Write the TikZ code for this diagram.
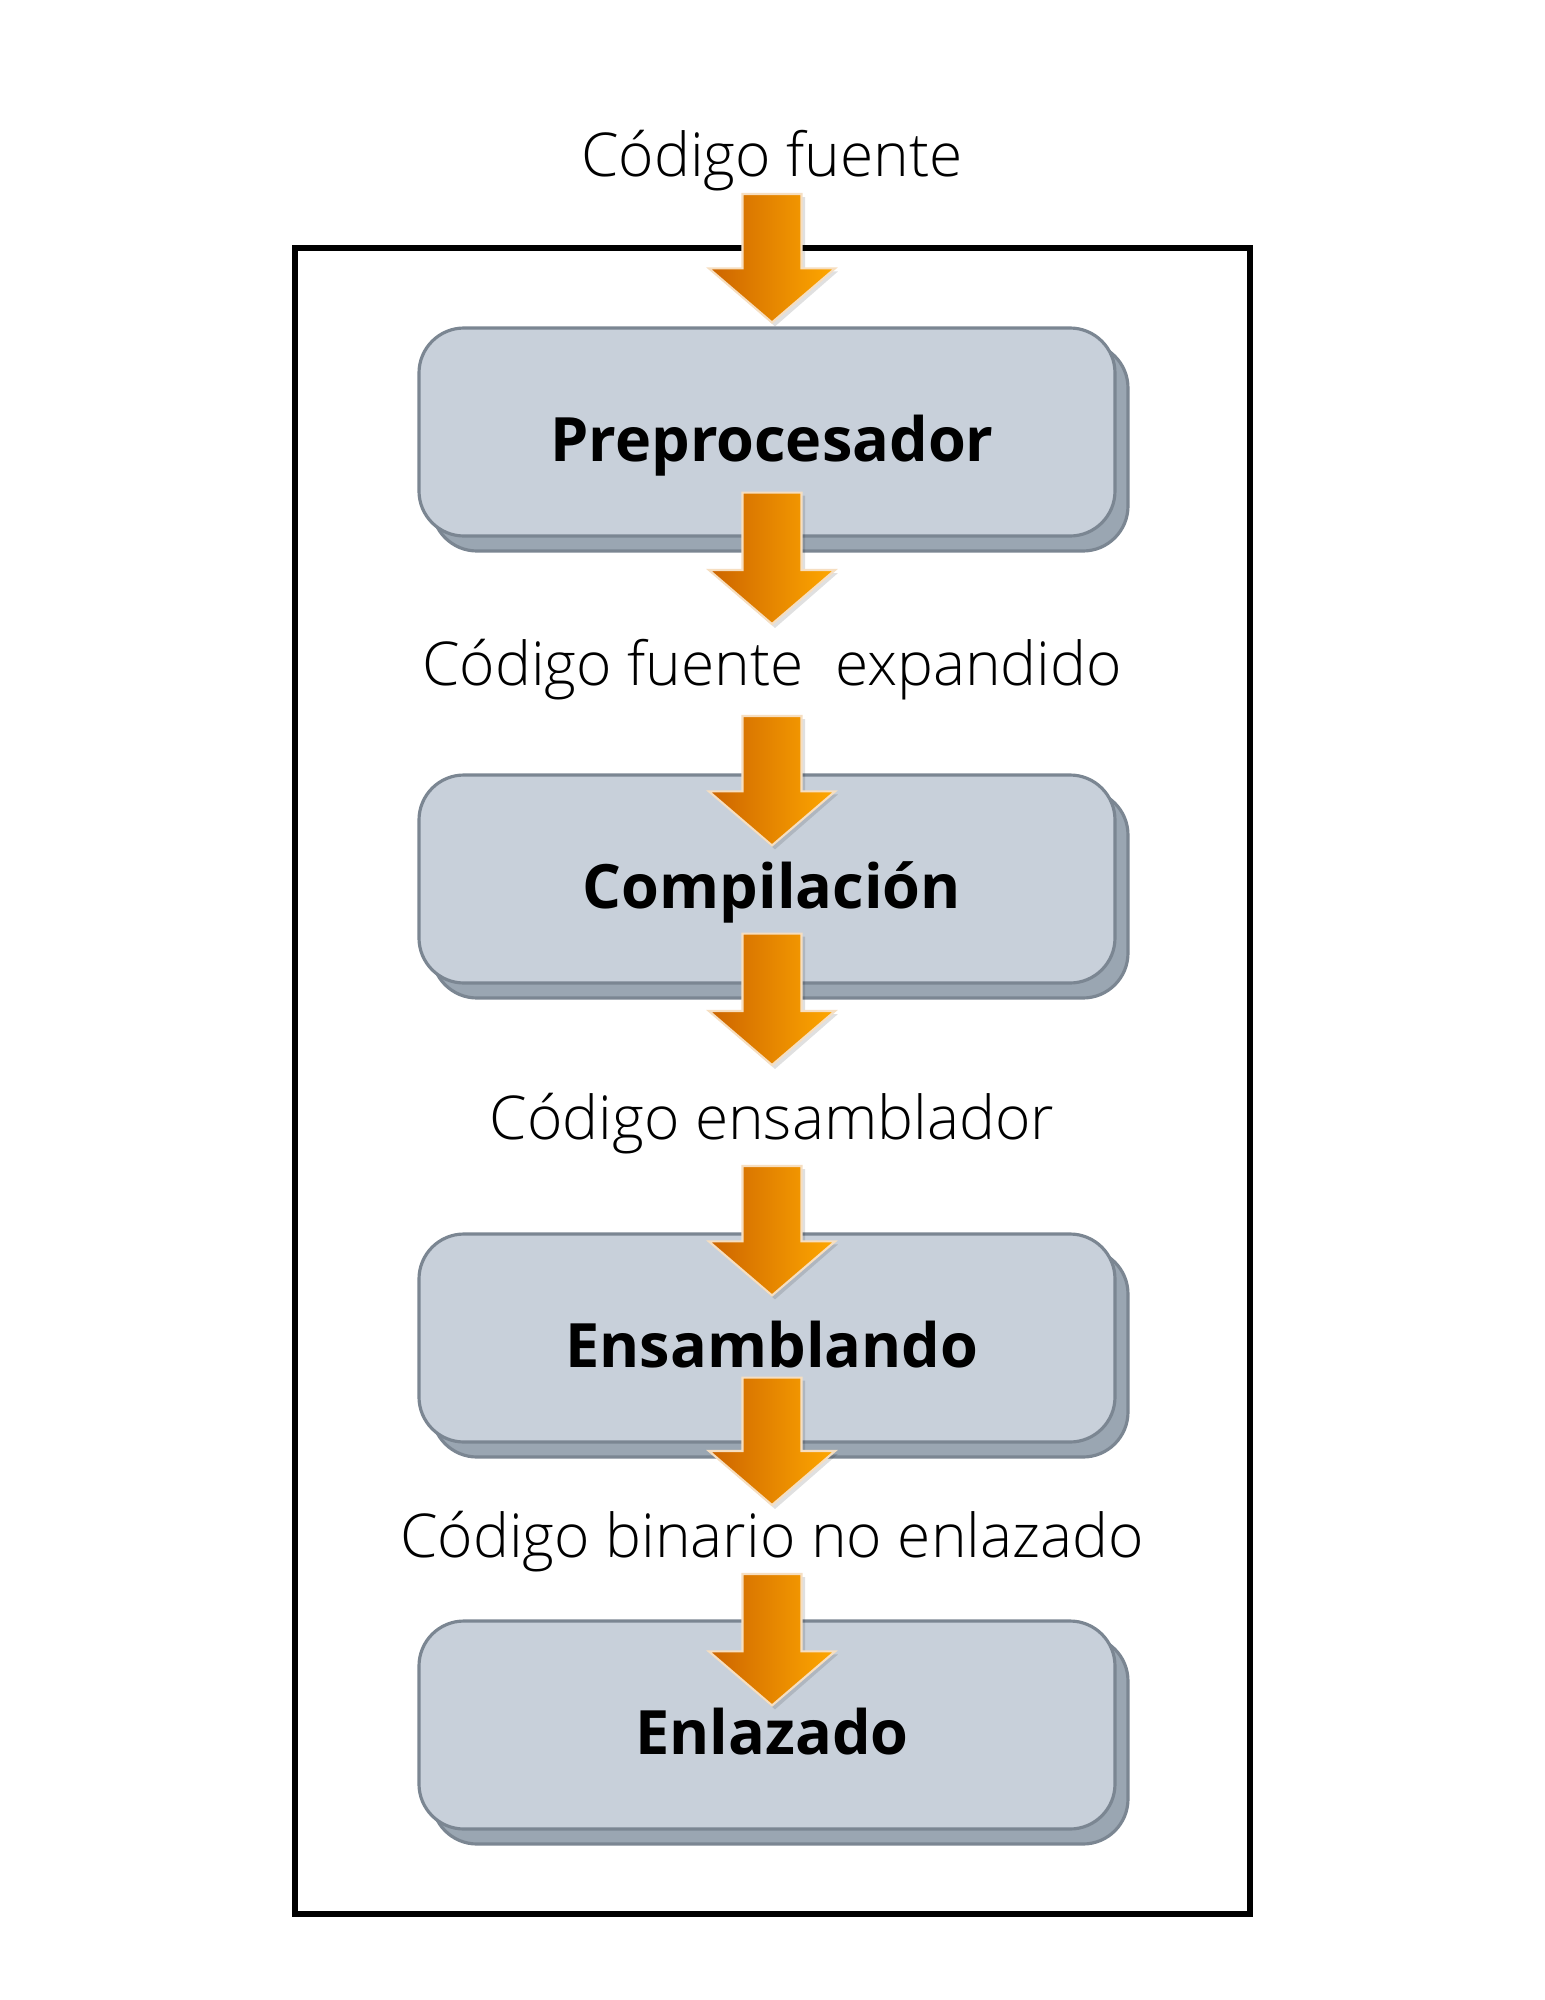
\documentclass[tikz,border=0pt]{standalone}
\usepackage{fontspec}
\setmainfont{Open Sans}[UprightFont=* Light, BoldFont=* Bold]
\usepackage{xcolor}
\usetikzlibrary{calc,shadows}

\definecolor{cajafill}{HTML}{C8D0DA}
\definecolor{cajasombra}{HTML}{9AA6B2}
\definecolor{cajaborde}{HTML}{7B8692}
\definecolor{flechaA}{HTML}{CC6400}
\definecolor{flechaB}{HTML}{FF8A00}
\definecolor{flechaC}{HTML}{FFA800}
\definecolor{flechaborde}{HTML}{F6DEC0}

% block arrow: #1 = top of the shaft, #2 = tip
\newcommand{\flecha}[2]{%
  \fill[black, opacity=0.12] ($(#1)+(-0.27,-0.03)$) -- ($(#2)+(-0.27,0.51)$) -- ($(#2)+(-0.6,0.51)$) -- ($(#2)+(0.03,-0.04)$) -- ($(#2)+(0.66,0.51)$) -- ($(#2)+(0.33,0.51)$) -- ($(#1)+(0.33,-0.03)$) -- cycle;
  \path[flecha] ($(#1)+(-0.295,0)$) -- ($(#2)+(-0.295,0.54)$) -- ($(#2)+(-0.63,0.54)$) -- (#2) -- ($(#2)+(0.63,0.54)$) -- ($(#2)+(0.295,0.54)$) -- ($(#1)+(0.295,0)$) -- cycle;}

\begin{document}
\begin{tikzpicture}[
    caja/.style={draw=cajaborde, line width=0.9pt, fill=cajafill, rounded corners=0.45cm, minimum width=6.96cm, minimum height=2.08cm, text height=0.73cm, text depth=0.15cm, font=\bfseries\fontsize{17.4}{20}\selectfont, execute at begin node=\hspace*{0.1cm},
      general shadow={fill=cajasombra, draw=cajaborde, line width=0.9pt, shadow xshift=0.13cm, shadow yshift=-0.15cm}},
    etiqueta/.style={inner sep=0pt, font=\fontsize{17.2}{21}\selectfont},
    flecha/.style={draw=flechaborde, line width=0.6pt, left color=flechaA, middle color=flechaB, right color=flechaC}
]
\fill[white] (-7.72,0) rectangle (7.73,-20);
\useasboundingbox (-7.72,0) rectangle (7.73,-20);

% Outer frame
\draw[line width=1.45pt] (-4.77,-2.48) rectangle (4.78,-19.14);

% Stages
\node[caja] (pre) at (-0.05,-4.32) {Preprocesador};
\node[caja] (comp) at (-0.05,-8.79) {Compilación};
\node[caja] (ensb) at (-0.05,-13.38) {Ensamblando};
\node[caja] (enl) at (-0.05,-17.25) {Enlazado};

% Intermediate products
\node[etiqueta] (src) at (0,-1.61) {Código fuente};
\node[etiqueta] (exp) at (0,-6.70) {Código fuente\ \ expandido};
\node[etiqueta] (ens) at (0,-11.24) {Código ensamblador};
\node[etiqueta] (bin) at (0,-15.42) {Código binario no enlazado};

% Arrows between products and stages
\flecha{$(src.center)+(0,-0.33)$}{$(src.center |- pre.north)+(0,0.04)$}
\flecha{$(exp.center |- pre.south)+(0,0.45)$}{$(exp.center)+(0,0.46)$}
\flecha{$(exp.center)+(0,-0.46)$}{$(exp.center |- comp.north)+(0,-0.72)$}
\flecha{$(ens.center |- comp.south)+(0,0.51)$}{$(ens.center)+(0,0.59)$}
\flecha{$(ens.center)+(0,-0.42)$}{$(ens.center |- ensb.north)+(0,-0.63)$}
\flecha{$(bin.center |- ensb.south)+(0,0.66)$}{$(bin.center)+(0,0.37)$}
\flecha{$(bin.center)+(0,-0.32)$}{$(bin.center |- enl.north)+(0,-0.86)$}
\end{tikzpicture}
\end{document}
